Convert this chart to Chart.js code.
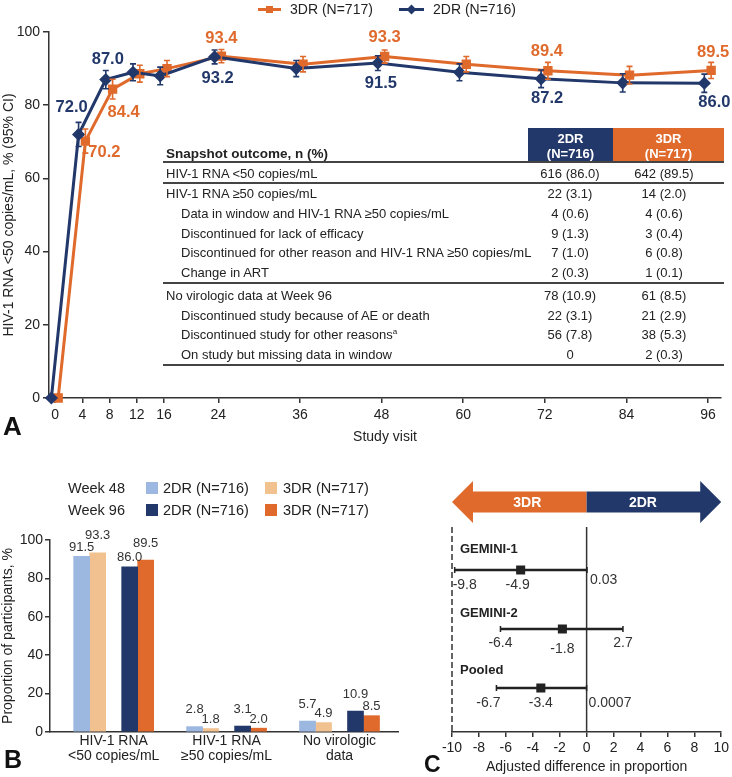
<!DOCTYPE html>
<html><head><meta charset="utf-8"><title>GEMINI 96-week outcomes</title>
<script src="https://cdn.jsdelivr.net/npm/chart.js@4.4.1/dist/chart.umd.min.js"></script>
<style>
html,body{margin:0;padding:0;background:#fff;}
#wrap{position:relative;width:732px;height:777px;overflow:hidden;font-family:"Liberation Sans",Arial,Helvetica,sans-serif;color:#222;}
#wrap canvas{position:absolute;}
.t{position:absolute;white-space:nowrap;}
.b{position:absolute;}
</style></head>
<body><div id="wrap">
<canvas id="cA" width="732" height="450" style="left:0;top:0"></canvas>
<canvas id="cB" width="410" height="307" style="left:0;top:470px"></canvas>
<canvas id="cC" width="312" height="307" style="left:420px;top:470px"></canvas>
</div>
<script>
// ---------- DATA ----------
// Panel A: snapshot response over time
const weeks = [0, 4, 8, 12, 16, 24, 36, 48, 60, 72, 84, 96];
const weekTicks = [0, 4, 8, 12, 16, 24, 36, 48, 60, 72, 84, 96];
const rate2DR = [0, 72.0, 87.0, 89.0, 88.0, 93.2, 90.0, 91.5, 89.0, 87.2, 86.1, 86.0];
const lo2DR   = [null, 68.7, 84.5, 86.7, 85.6, 91.3, 87.8, 89.5, 86.7, 84.8, 83.6, 83.5];
const hi2DR   = [null, 75.3, 89.5, 91.3, 90.4, 95.1, 92.2, 93.5, 91.3, 89.6, 88.6, 88.5];
const rate3DR = [0, 70.2, 84.4, 88.6, 90.0, 93.4, 91.2, 93.3, 91.2, 89.4, 88.2, 89.5];
const lo3DR   = [null, 66.9, 81.7, 86.3, 87.8, 91.6, 89.1, 91.5, 89.1, 87.1, 85.8, 87.3];
const hi3DR   = [null, 73.5, 87.1, 90.9, 92.2, 95.2, 93.3, 95.1, 93.3, 91.7, 90.6, 91.7];
const labeledWeeks = [4, 8, 24, 48, 72, 96];

// Panel A table
const tableLabels = ['HIV-1 RNA <50 copies/mL', 'HIV-1 RNA \u226550 copies/mL',
  'Data in window and HIV-1 RNA \u226550 copies/mL', 'Discontinued for lack of efficacy',
  'Discontinued for other reason and HIV-1 RNA \u226550 copies/mL', 'Change in ART',
  'No virologic data at  Week 96', 'Discontinued study because of AE or death',
  'Discontinued study for other reasons', 'On study but missing data in window'];
const tableFootnote = ['', '', '', '', '', '', '', '', 'a', ''];
const table2DR = ['616 (86.0)', '22 (3.1)', '4 (0.6)', '9 (1.3)', '7 (1.0)', '2 (0.3)', '78 (10.9)', '22 (3.1)', '56 (7.8)', '0'];
const table3DR = ['642 (89.5)', '14 (2.0)', '4 (0.6)', '3 (0.4)', '6 (0.8)', '1 (0.1)', '61 (8.5)', '21 (2.9)', '38 (5.3)', '2 (0.3)'];

// Panel B
const catsB = [['HIV-1 RNA', '<50 copies/mL'], ['HIV-1 RNA', '\u226550 copies/mL'], ['No virologic', 'data']];
const wk48_2DR = [91.5, 2.8, 5.7];
const wk48_3DR = [93.3, 1.8, 4.9];
const wk96_2DR = [86.0, 3.1, 10.9];
const wk96_3DR = [89.5, 2.0, 8.5];

// Panel C
const studies = ['GEMINI-1', 'GEMINI-2', 'Pooled'];
const diffEst = [-4.9, -1.8, -3.4];
const diffLo  = [-9.8, -6.4, -6.7];
const diffHi  = [0.03, 2.7, 0.0007];

// ---------- STYLE ----------
const NAVY = '#22386a', ORANGE = '#df6a2c', LBLUE = '#9cb7e0', LORANGE = '#f2c190', AXIS = '#333', TXT = '#222';
const FONT = '"Liberation Sans", Arial, Helvetica, sans-serif';
Chart.defaults.font.family = FONT;
Chart.defaults.color = TXT;
const xShift = [-0.55, 0.45];
const labelPosA = [
  {4: [-7, -27], 8: [2, -20], 24: [3, 22], 48: [3, 20], 72: [6, 20], 96: [10, 19]},
  {4: [19, 11], 8: [11, 23], 24: [0, -18], 48: [0, -19], 72: [-1, -19], 96: [2, -18]}
];
const forestStyle = [
  {lo: [10, 15], est: [-3, 15], hi: [3, 10, 'left'], title: -21},
  {lo: [0, 14], est: [0, 20], hi: [0, 14, 'center'], title: -16},
  {lo: [-8, 15], est: [0, 15], hi: [2, 15, 'left'], title: -18}
];

// ---------- HTML helpers ----------
const wrap = document.getElementById('wrap');
function txt(s, x, cy, o = {}) {
  const d = document.createElement('div'); d.className = 't';
  const fs = o.size || 13, lh = Math.round(fs * 1.3);
  d.style.fontSize = fs + 'px'; d.style.lineHeight = lh + 'px'; d.style.height = lh + 'px'; d.style.top = (cy - lh / 2) + 'px';
  if (o.bold) d.style.fontWeight = 'bold';
  if (o.color) d.style.color = o.color;
  if (o.align === 'center') { d.style.left = (x - 150) + 'px'; d.style.width = '300px'; d.style.textAlign = 'center'; }
  else d.style.left = x + 'px';
  if (o.html) d.innerHTML = s; else d.textContent = s;
  wrap.appendChild(d); return d;
}
function box(x, y, w, h, c, extra) {
  const d = document.createElement('div'); d.className = 'b';
  d.style.left = x + 'px'; d.style.top = y + 'px'; d.style.width = w + 'px'; d.style.height = h + 'px'; d.style.background = c;
  if (extra) Object.assign(d.style, extra);
  wrap.appendChild(d); return d;
}

// ---------- Panel A legend ----------
box(258, 7.5, 23, 3, ORANGE); box(266, 5.5, 7, 7, ORANGE);
txt('3DR (N=717)', 290, 9, {size: 14});
box(399, 7.5, 25, 3, NAVY); box(408, 5.5, 7, 7, NAVY, {transform: 'rotate(45deg)'});
txt('2DR (N=716)', 433, 9, {size: 14});

// ---------- Panel A table ----------
box(528, 128, 85, 34, NAVY); box(613, 128, 111, 34, ORANGE);
txt('2DR', 570.5, 138, {align: 'center', bold: true, color: '#fff'});
txt('(N=716)', 570.5, 153, {align: 'center', bold: true, color: '#fff'});
txt('3DR', 668.5, 138, {align: 'center', bold: true, color: '#fff'});
txt('(N=717)', 668.5, 153, {align: 'center', bold: true, color: '#fff'});
txt('Snapshot outcome, n (%)', 166, 154, {bold: true, size: 13.5});
box(163, 161, 561, 2, '#444');
box(163, 182, 561, 1.5, '#444');
box(163, 282, 561, 2, '#444');
box(163, 364, 561, 2, '#444');
const rowY = [173, 193, 213, 233, 252.5, 272, 295, 315, 334.5, 354];
const rowIndent = [0, 0, 1, 1, 1, 1, 0, 1, 1, 1];
tableLabels.forEach((lab, i) => {
  const d = txt(lab, rowIndent[i] ? 181 : 166, rowY[i]);
  if (tableFootnote[i]) {
    const s = document.createElement('sup'); s.textContent = tableFootnote[i];
    s.style.fontSize = '8px'; s.style.lineHeight = '0'; s.style.verticalAlign = '5px';
    d.appendChild(s);
  }
  txt(table2DR[i], 570, rowY[i], {align: 'center'});
  txt(table3DR[i], 664, rowY[i], {align: 'center'});
});

// ---------- Panel B legend ----------
txt('Week 48', 68, 488, {size: 14.5});
box(146, 482, 12, 12, LBLUE); txt('2DR (N=716)', 163, 488, {size: 14.5});
box(265, 482, 12, 12, LORANGE); txt('3DR (N=717)', 283, 488, {size: 14.5});
txt('Week 96', 68, 510, {size: 14.5});
box(146, 504, 12, 12, NAVY); txt('2DR (N=716)', 163, 510, {size: 14.5});
box(265, 504, 12, 12, ORANGE); txt('3DR (N=717)', 283, 510, {size: 14.5});

// panel letters
txt('A', 3, 426, {size: 26, bold: true, color: '#111'});
txt('B', 4, 759, {size: 25, bold: true, color: '#111'});
txt('C', 424, 764, {size: 23, bold: true, color: '#111'});

// ---------- Panel A chart ----------
function series(vals, lo, hi, sh) { return weeks.map((w, i) => ({x: w + sh, y: vals[i], lo: lo[i], hi: hi[i]})); }
const errPlugin = {
  id: 'errA',
  afterDatasetsDraw(chart) {
    const {ctx, scales: {y}} = chart;
    [1, 0].forEach(di => {
      const ds = chart.data.datasets[di], meta = chart.getDatasetMeta(di);
      ctx.save(); ctx.strokeStyle = ds.borderColor; ctx.lineWidth = 1.6;
      ds.data.forEach((p, i) => {
        if (p.lo == null) return;
        const px = meta.data[i].x, y1 = y.getPixelForValue(p.lo), y2 = y.getPixelForValue(p.hi);
        ctx.beginPath();
        ctx.moveTo(px, y1); ctx.lineTo(px, y2);
        ctx.moveTo(px - 3, y1); ctx.lineTo(px + 3, y1);
        ctx.moveTo(px - 3, y2); ctx.lineTo(px + 3, y2);
        ctx.stroke();
      });
      ctx.restore();
    });
  }
};
const labelPluginA = {
  id: 'lblA',
  afterDatasetsDraw(chart) {
    const ctx = chart.ctx;
    ctx.save(); ctx.font = 'bold 16.5px ' + FONT; ctx.textAlign = 'center'; ctx.textBaseline = 'middle';
    [0, 1].forEach(di => {
      const ds = chart.data.datasets[di], meta = chart.getDatasetMeta(di);
      ctx.fillStyle = ds.borderColor;
      weeks.forEach((w, i) => {
        if (labeledWeeks.indexOf(w) < 0) return;
        const off = labelPosA[di][w], el = meta.data[i];
        ctx.fillText(ds.data[i].y.toFixed(1), el.x + off[0], el.y + off[1]);
      });
    });
    ctx.restore();
  }
};
new Chart(document.getElementById('cA'), {
  type: 'line',
  data: {datasets: [
    {label: '2DR (N=716)', data: series(rate2DR, lo2DR, hi2DR, xShift[0]), borderColor: NAVY, backgroundColor: NAVY,
     borderWidth: 3, pointStyle: 'rectRot', pointRadius: 4.5, tension: 0, clip: false},
    {label: '3DR (N=717)', data: series(rate3DR, lo3DR, hi3DR, xShift[1]), borderColor: ORANGE, backgroundColor: ORANGE,
     borderWidth: 3, pointStyle: 'rect', pointRadius: 4.5, tension: 0, clip: false}
  ]},
  options: {
    responsive: false, animation: false, devicePixelRatio: 1,
    layout: {padding: {left: 0, top: 32, right: 11, bottom: 0}},
    plugins: {legend: {display: false}, tooltip: {enabled: false}},
    scales: {
      x: {type: 'linear', min: -0.9, max: 97.9,
        afterBuildTicks: s => { s.ticks = weekTicks.map(v => ({value: v})); },
        afterFit: s => { s.height = 52; },
        grid: {drawOnChartArea: false, tickLength: 5, color: AXIS, lineWidth: 1.5},
        border: {color: AXIS, width: 1.5},
        ticks: {font: {size: 14}, color: TXT, padding: 4, autoSkip: false, maxRotation: 0},
        title: {display: true, text: 'Study visit', font: {size: 14}, color: TXT, padding: {top: 0, bottom: 4}}},
      y: {min: 0, max: 100,
        ticks: {stepSize: 20, font: {size: 14}, color: TXT, padding: 3},
        afterFit: s => { s.width = 49; },
        grid: {drawOnChartArea: false, tickLength: 6, color: AXIS, lineWidth: 1.5},
        border: {color: AXIS, width: 1.5},
        title: {display: true, text: 'HIV-1 RNA <50 copies/mL, % (95% CI)', font: {size: 14}, color: TXT, padding: {top: 1, bottom: 0}}}
    }
  },
  plugins: [errPlugin, labelPluginA]
});

// ---------- Panel B chart ----------
const pts = arr => arr.map((v, i) => ({x: i, y: v}));
const barLabelPlugin = {
  id: 'lblB',
  afterDatasetsDraw(chart) {
    const ctx = chart.ctx;
    ctx.save(); ctx.font = '13px ' + FONT; ctx.fillStyle = '#333'; ctx.textAlign = 'center'; ctx.textBaseline = 'middle';
    [[0, 1], [3, 4]].forEach(([a, b]) => {
      const ma = chart.getDatasetMeta(a), mb = chart.getDatasetMeta(b);
      ma.data.forEach((barA, i) => {
        const va = chart.data.datasets[a].data[i].y, vb = chart.data.datasets[b].data[i].y, barB = mb.data[i];
        const aHigh = va >= vb;
        ctx.fillText(va.toFixed(1), barA.x, barA.y - (aHigh ? 17 : 9));
        ctx.fillText(vb.toFixed(1), barB.x, barB.y - (aHigh ? 9 : 17));
      });
    });
    ctx.restore();
  }
};
new Chart(document.getElementById('cB'), {
  type: 'bar',
  data: {datasets: [
    {label: 'Week 48 2DR (N=716)', data: pts(wk48_2DR), backgroundColor: LBLUE},
    {label: 'Week 48 3DR (N=717)', data: pts(wk48_3DR), backgroundColor: LORANGE},
    {label: '', data: [], backgroundColor: 'rgba(0,0,0,0)'},
    {label: 'Week 96 2DR (N=716)', data: pts(wk96_2DR), backgroundColor: NAVY},
    {label: 'Week 96 3DR (N=717)', data: pts(wk96_3DR), backgroundColor: ORANGE}
  ]},
  options: {
    responsive: false, animation: false, devicePixelRatio: 1,
    datasets: {bar: {barThickness: 16, borderWidth: 0}},
    layout: {padding: {left: 0, top: 70, right: 12, bottom: 0}},
    plugins: {legend: {display: false}, tooltip: {enabled: false}},
    scales: {
      x: {type: 'linear', min: -0.564, max: 2.518, offset: false,
        afterBuildTicks: s => { s.ticks = catsB.map((c, i) => ({value: i})); },
        afterFit: s => { s.height = 45; },
        grid: {display: false, offset: false},
        border: {display: true, color: AXIS, width: 1.5},
        ticks: {callback: v => catsB[v], font: {size: 14, lineHeight: 1.1}, color: TXT, padding: -7, autoSkip: false, maxRotation: 0}},
      y: {min: 0, max: 100,
        ticks: {stepSize: 20, font: {size: 14}, color: TXT, padding: 2},
        afterFit: s => { s.width = 50; },
        grid: {drawOnChartArea: false, tickLength: 5, color: AXIS, lineWidth: 1.5},
        border: {color: AXIS, width: 1.5},
        title: {display: true, text: 'Proportion of participants, %', font: {size: 14}, color: TXT, padding: {top: 0, bottom: 0}}}
    }
  },
  plugins: [barLabelPlugin]
});

// ---------- Panel C chart ----------
const forestPlugin = {
  id: 'forest',
  beforeDatasetsDraw(chart) {
    const {ctx, chartArea: ca, scales: {x, y}} = chart;
    ctx.save();
    const xl = x.getPixelForValue(x.min), x0 = x.getPixelForValue(0), xr = x.getPixelForValue(x.max);
    const yc = ca.top - 25, hh = 21, bh = 10.5, hl = 21;
    ctx.fillStyle = ORANGE;
    ctx.beginPath(); ctx.moveTo(xl, yc); ctx.lineTo(xl + hl, yc - hh); ctx.lineTo(xl + hl, yc - bh); ctx.lineTo(x0, yc - bh);
    ctx.lineTo(x0, yc + bh); ctx.lineTo(xl + hl, yc + bh); ctx.lineTo(xl + hl, yc + hh); ctx.closePath(); ctx.fill();
    ctx.fillStyle = NAVY;
    ctx.beginPath(); ctx.moveTo(xr, yc); ctx.lineTo(xr - hl, yc - hh); ctx.lineTo(xr - hl, yc - bh); ctx.lineTo(x0, yc - bh);
    ctx.lineTo(x0, yc + bh); ctx.lineTo(xr - hl, yc + bh); ctx.lineTo(xr - hl, yc + hh); ctx.closePath(); ctx.fill();
    ctx.fillStyle = '#fff'; ctx.font = 'bold 14px ' + FONT; ctx.textAlign = 'center'; ctx.textBaseline = 'middle';
    ctx.fillText('3DR', (xl + x0) / 2 + 8, yc + 1);
    ctx.fillText('2DR', (xr + x0) / 2 - 11, yc + 1);
    ctx.strokeStyle = AXIS; ctx.lineWidth = 1.5;
    ctx.setLineDash([6, 3]);
    ctx.beginPath(); ctx.moveTo(xl, ca.top); ctx.lineTo(xl, ca.bottom); ctx.stroke();
    ctx.setLineDash([]);
    ctx.beginPath(); ctx.moveTo(x0, ca.top); ctx.lineTo(x0, ca.bottom); ctx.stroke();
    ctx.strokeStyle = '#222'; ctx.lineWidth = 2.5;
    studies.forEach((s, i) => {
      const py = y.getPixelForValue(i + 1), a = x.getPixelForValue(diffLo[i]), b = x.getPixelForValue(diffHi[i]);
      ctx.beginPath(); ctx.moveTo(a, py); ctx.lineTo(b, py); ctx.stroke();
      ctx.lineWidth = 1.5;
      ctx.beginPath(); ctx.moveTo(a, py - 3); ctx.lineTo(a, py + 3); ctx.moveTo(b, py - 3); ctx.lineTo(b, py + 3); ctx.stroke();
      ctx.lineWidth = 2.5;
    });
    ctx.restore();
  },
  afterDatasetsDraw(chart) {
    const {ctx, chartArea: ca, scales: {x, y}} = chart;
    ctx.save(); ctx.textBaseline = 'middle';
    studies.forEach((s, i) => {
      const st = forestStyle[i], py = y.getPixelForValue(i + 1);
      ctx.fillStyle = '#222'; ctx.font = 'bold 13px ' + FONT; ctx.textAlign = 'left';
      ctx.fillText(s, ca.left + 8, py + st.title);
      ctx.fillStyle = '#333'; ctx.font = '14px ' + FONT; ctx.textAlign = 'center';
      ctx.fillText(String(diffLo[i]), x.getPixelForValue(diffLo[i]) + st.lo[0], py + st.lo[1]);
      ctx.fillText(String(diffEst[i]), x.getPixelForValue(diffEst[i]) + st.est[0], py + st.est[1]);
      ctx.textAlign = st.hi[2];
      ctx.fillText(String(diffHi[i]), x.getPixelForValue(diffHi[i]) + st.hi[0], py + st.hi[1]);
    });
    ctx.restore();
  }
};
new Chart(document.getElementById('cC'), {
  type: 'scatter',
  data: {datasets: [
    {label: 'Adjusted difference', data: diffEst.map((v, i) => ({x: v, y: i + 1})),
     pointStyle: 'rect', pointRadius: 6.4, backgroundColor: '#222', borderColor: '#222', borderWidth: 0}
  ]},
  options: {
    responsive: false, animation: false, devicePixelRatio: 1,
    layout: {padding: {left: 32, top: 57, right: 9, bottom: 0}},
    plugins: {legend: {display: false}, tooltip: {enabled: false}},
    scales: {
      x: {type: 'linear', min: -10, max: 10,
        ticks: {stepSize: 2, font: {size: 14}, color: TXT, padding: 3, autoSkip: false, maxRotation: 0},
        afterFit: s => { s.height = 45; },
        grid: {drawOnChartArea: false, tickLength: 5, color: AXIS, lineWidth: 1.5},
        border: {color: AXIS, width: 1.5},
        title: {display: true, text: 'Adjusted difference in proportion', font: {size: 14}, color: TXT, padding: {top: 0, bottom: 1}}},
      y: {type: 'linear', display: false, reverse: true, min: 0.27, max: 3.745}
    }
  },
  plugins: [forestPlugin]
});
</script></body></html>
